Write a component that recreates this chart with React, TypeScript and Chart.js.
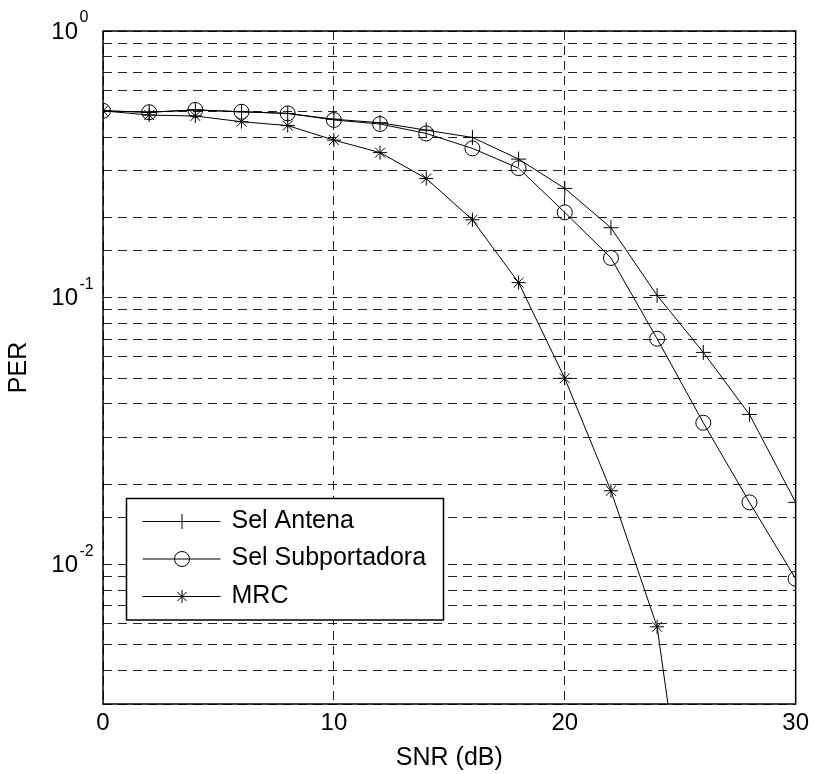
import React, { useEffect, useRef } from 'react';
import { Chart, registerables } from 'chart.js';

Chart.register(...registerables);

const snr = [0, 2, 4, 6, 8, 10, 12, 14, 16, 18, 20, 22, 24, 26, 28, 30];
const selAntena = [0.502, 0.496, 0.506, 0.498, 0.491, 0.467, 0.453, 0.425, 0.399, 0.331, 0.257, 0.183, 0.102, 0.0624, 0.0365, 0.0171];
const selSubportadora = [0.502, 0.496, 0.506, 0.498, 0.491, 0.464, 0.448, 0.413, 0.363, 0.306, 0.209, 0.141, 0.0702, 0.034, 0.0171, 0.00884];
const mrc = [0.502, 0.484, 0.48, 0.457, 0.442, 0.39, 0.35, 0.28, 0.196, 0.114, 0.0499, 0.0189, 0.00584, 0.00034];

const seriesLabels = ['Sel Antena', 'Sel Subportadora', 'MRC'];
const seriesMarkers = ['cross', 'circle', 'star'];
const xTickStep = 10;
const yMajorTicks = [1, 0.1, 0.01];
const yExponents = ['0', '-1', '-2'];
const xTitle = 'SNR (dB)';
const yTitle = 'PER';

const FONT = '"Liberation Sans", Arial, Helvetica, sans-serif';

function drawMarker(ctx: CanvasRenderingContext2D, style: string, x: number, y: number, r: number) {
  ctx.beginPath();
  if (style === 'cross') {
    ctx.moveTo(x - r, y); ctx.lineTo(x + r, y);
    ctx.moveTo(x, y - r); ctx.lineTo(x, y + r);
  } else if (style === 'circle') {
    ctx.arc(x, y, r, 0, Math.PI * 2);
  } else {
    const d = r * Math.SQRT1_2;
    ctx.moveTo(x - r, y); ctx.lineTo(x + r, y);
    ctx.moveTo(x, y - r); ctx.lineTo(x, y + r);
    ctx.moveTo(x - d, y - d); ctx.lineTo(x + d, y + d);
    ctx.moveTo(x - d, y + d); ctx.lineTo(x + d, y - d);
  }
  ctx.stroke();
}

const decorPlugin = {
  id: 'decor',
  afterDatasetsDraw(chart: any) {
    const { ctx, chartArea: a } = chart;
    ctx.save();
    const bx = a.left + 23.5, by = 498.5, bw = 317, bh = 121.5;
    ctx.fillStyle = '#fff';
    ctx.fillRect(bx, by, bw, bh);
    ctx.strokeStyle = '#000';
    ctx.lineWidth = 1.5;
    ctx.strokeRect(bx, by, bw, bh);
    ctx.lineWidth = 1;
    chart.data.datasets.forEach((ds: any, i: number) => {
      const ry = by + 23 + i * 37.5;
      ctx.beginPath();
      ctx.moveTo(bx + 16, ry);
      ctx.lineTo(bx + 94, ry);
      ctx.stroke();
      drawMarker(ctx, seriesMarkers[i], bx + 55.5, ry, i === 2 ? 6.5 : 7.5);
      ctx.fillStyle = '#000';
      ctx.font = `25px ${FONT}`;
      ctx.textAlign = 'left';
      ctx.textBaseline = 'middle';
      ctx.fillText(ds.label, bx + 105, ry - 0.5);
    });
    ctx.restore();
  },
  afterDraw(chart: any) {
    const { ctx, chartArea: a, scales } = chart;
    ctx.save();
    ctx.strokeStyle = '#000';
    ctx.lineWidth = 1.5;
    ctx.strokeRect(a.left, a.top, a.right - a.left, a.bottom - a.top);
    const ys = scales.y;
    ctx.fillStyle = '#000';
    yMajorTicks.forEach((v, i) => {
      const py = ys.getPixelForValue(v);
      ctx.font = `24px ${FONT}`;
      ctx.textAlign = 'right';
      ctx.textBaseline = 'alphabetic';
      ctx.fillText('10', a.left - 25, py + 7.5);
      ctx.font = `16px ${FONT}`;
      ctx.textAlign = 'left';
      ctx.fillText(yExponents[i], a.left - 23.5, py - 9);
    });
    ctx.restore();
  },
};

function makeDataset(label: string, values: number[], marker: string) {
  return {
    label,
    data: values.map((v, i) => ({ x: snr[i], y: v })),
    borderColor: '#000',
    borderWidth: 1,
    pointStyle: marker,
    pointRadius: marker === 'star' ? 7 : 7.5,
    pointBorderColor: '#000',
    pointBackgroundColor: 'rgba(0,0,0,0)',
    pointBorderWidth: 1,
    tension: 0,
    fill: false,
  };
}

export default function App() {
  const ref = useRef<HTMLCanvasElement | null>(null);
  useEffect(() => {
    if (!ref.current) return;
    const gridCommon = { color: '#222', lineWidth: 1, drawTicks: false, borderDash: [9, 6] };
    const chart = new Chart(ref.current, {
      type: 'line',
      data: {
        datasets: [
          makeDataset(seriesLabels[0], selAntena, seriesMarkers[0]),
          makeDataset(seriesLabels[1], selSubportadora, seriesMarkers[1]),
          makeDataset(seriesLabels[2], mrc, seriesMarkers[2]),
        ],
      },
      options: {
        responsive: false,
        animation: false,
        devicePixelRatio: 1,
        layout: { padding: { top: 31, right: 17, left: 0, bottom: 0 } },
        plugins: { legend: { display: false }, tooltip: { enabled: false } },
        scales: {
          x: {
            type: 'linear',
            min: 0,
            max: 30,
            afterFit: (s: any) => { s.height = 70; },
            ticks: { stepSize: xTickStep, padding: 5, color: '#000', font: { family: FONT, size: 24 }, maxRotation: 0, autoSkip: false },
            grid: gridCommon,
            border: { display: false, dash: [9, 6] },
            title: { display: true, text: xTitle, color: '#000', font: { family: FONT, size: 25 }, padding: { top: 0, bottom: 1 } },
          },
          y: {
            type: 'logarithmic',
            min: 0.003,
            max: 1,
            afterFit: (s: any) => { s.width = 103; },
            ticks: { display: false },
            grid: gridCommon,
            border: { display: false, dash: [9, 6] },
            title: { display: true, text: yTitle, color: '#000', font: { family: FONT, size: 25 }, padding: { top: 4, bottom: 0 } },
          },
        },
      } as any,
      plugins: [decorPlugin],
    });
    return () => chart.destroy();
  }, []);
  return (
    <div style={{ position: 'absolute', left: 0, top: 0, width: 814, height: 774, background: '#fff' }}>
      <canvas ref={ref} width={814} height={774} style={{ display: 'block' }} />
    </div>
  );
}
